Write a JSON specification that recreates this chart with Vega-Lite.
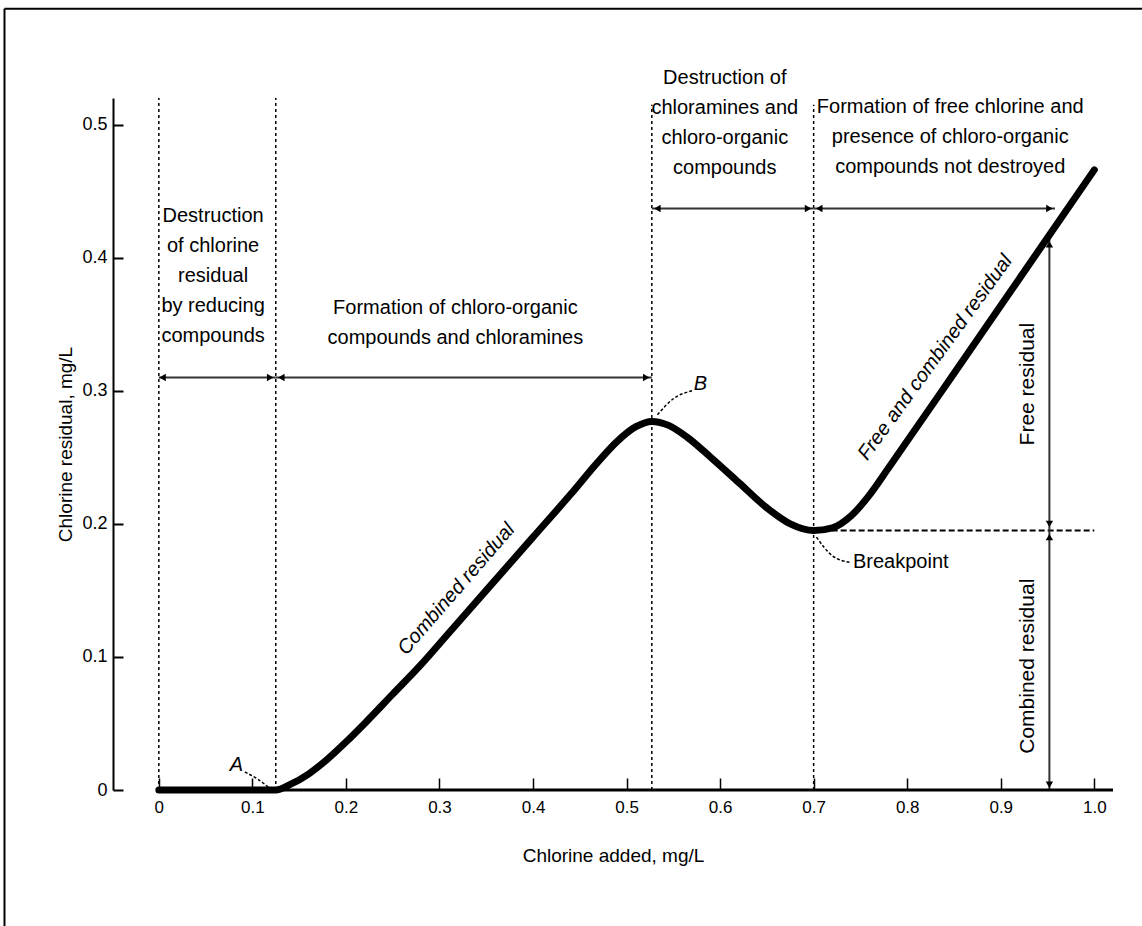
{
  "$schema": "https://vega.github.io/schema/vega-lite/v6.json",
  "width": 1000,
  "height": 692,
  "autosize": {"type": "none"},
  "padding": {"left": 113, "top": 98, "right": 29, "bottom": 136},
  "background": "white",
  "config": {
    "view": {"stroke": null},
    "font": "Liberation Sans",
    "axis": {"grid": false, "labelColor": "black", "titleColor": "black", "tickColor": "black", "domainColor": "black", "titleFontWeight": "normal"}
  },
  "datasets": {
    "curve": [
      {"x": 0, "y": 0}, {"x": 0.06, "y": 0}, {"x": 0.125, "y": 0}, {"x": 0.14, "y": 0.004},
      {"x": 0.16, "y": 0.012}, {"x": 0.18, "y": 0.023}, {"x": 0.2, "y": 0.036}, {"x": 0.22, "y": 0.05},
      {"x": 0.25, "y": 0.072}, {"x": 0.28, "y": 0.094}, {"x": 0.31, "y": 0.118}, {"x": 0.35, "y": 0.15},
      {"x": 0.4, "y": 0.19}, {"x": 0.44, "y": 0.222}, {"x": 0.47, "y": 0.247}, {"x": 0.49, "y": 0.262},
      {"x": 0.51, "y": 0.273}, {"x": 0.527, "y": 0.277}, {"x": 0.545, "y": 0.274}, {"x": 0.565, "y": 0.265},
      {"x": 0.59, "y": 0.25}, {"x": 0.62, "y": 0.231}, {"x": 0.65, "y": 0.212}, {"x": 0.675, "y": 0.2},
      {"x": 0.7, "y": 0.195}, {"x": 0.72, "y": 0.197}, {"x": 0.74, "y": 0.206}, {"x": 0.76, "y": 0.222},
      {"x": 0.78, "y": 0.242}, {"x": 0.85, "y": 0.313}, {"x": 0.95, "y": 0.415}, {"x": 1.0, "y": 0.466}
    ],
    "segments": [
      {"kind": "frame", "x": -0.165, "x2": 1.2, "y": 0.587, "y2": 0.587},
      {"kind": "frame", "x": -0.165, "x2": -0.165, "y": -0.3, "y2": 0.587},
      {"kind": "divider", "x": 0, "x2": 0, "y": 0, "y2": 0.52},
      {"kind": "divider", "x": 0.125, "x2": 0.125, "y": 0, "y2": 0.52},
      {"kind": "divider", "x": 0.527, "x2": 0.527, "y": 0, "y2": 0.515},
      {"kind": "divider", "x": 0.7, "x2": 0.7, "y": 0, "y2": 0.515},
      {"kind": "breakline", "x": 0.7, "x2": 1.0, "y": 0.195, "y2": 0.195},
      {"kind": "arrow", "x": 0, "x2": 0.125, "y": 0.31, "y2": 0.31},
      {"kind": "arrow", "x": 0.125, "x2": 0.527, "y": 0.31, "y2": 0.31},
      {"kind": "arrow", "x": 0.527, "x2": 0.7, "y": 0.437, "y2": 0.437},
      {"kind": "arrow", "x": 0.7, "x2": 0.958, "y": 0.437, "y2": 0.437},
      {"kind": "arrow", "x": 0.952, "x2": 0.952, "y": 0, "y2": 0.195},
      {"kind": "arrow", "x": 0.952, "x2": 0.952, "y": 0.195, "y2": 0.416},
      {"kind": "baseline", "x": 0, "x2": 1.02, "y": 0, "y2": 0}
    ],
    "heads": [
      {"x": 0.004, "y": 0.31, "dir": "left"}, {"x": 0.119, "y": 0.31, "dir": "right"},
      {"x": 0.131, "y": 0.31, "dir": "left"}, {"x": 0.521, "y": 0.31, "dir": "right"},
      {"x": 0.533, "y": 0.437, "dir": "left"}, {"x": 0.694, "y": 0.437, "dir": "right"},
      {"x": 0.706, "y": 0.437, "dir": "left"}, {"x": 0.952, "y": 0.437, "dir": "right"},
      {"x": 0.952, "y": 0.004, "dir": "down"}, {"x": 0.952, "y": 0.19, "dir": "up"},
      {"x": 0.952, "y": 0.2, "dir": "down"}, {"x": 0.952, "y": 0.41, "dir": "up"}
    ],
    "blocks": [
      {"x": 0.058, "y": 0.431, "text": "Destruction\nof chlorine\nresidual\nby reducing\ncompounds"},
      {"x": 0.317, "y": 0.362, "text": "Formation of chloro-organic\ncompounds and chloramines"},
      {"x": 0.605, "y": 0.535, "text": "Destruction of\nchloramines and\nchloro-organic\ncompounds"},
      {"x": 0.846, "y": 0.513, "text": "Formation of free chlorine and\npresence of chloro-organic\ncompounds not destroyed"}
    ],
    "vertLabels": [
      {"x": 0.929, "y": 0.305, "text": "Free residual"},
      {"x": 0.929, "y": 0.093, "text": "Combined residual"}
    ],
    "points": [
      {"x": 0.083, "y": 0.019, "text": "A"},
      {"x": 0.579, "y": 0.305, "text": "B"}
    ],
    "leaders": [
      {"id": "A", "x": 0.092, "y": 0.0135}, {"id": "A", "x": 0.106, "y": 0.008}, {"id": "A", "x": 0.119, "y": 0.001},
      {"id": "B", "x": 0.533, "y": 0.282}, {"id": "B", "x": 0.55, "y": 0.294}, {"id": "B", "x": 0.57, "y": 0.3},
      {"id": "P", "x": 0.703, "y": 0.19}, {"id": "P", "x": 0.72, "y": 0.176}, {"id": "P", "x": 0.739, "y": 0.171}
    ]
  },
  "encoding": {
    "x": {"field": "x", "type": "quantitative", "scale": {"domain": [-0.049, 1.02], "nice": false, "zero": false},
      "axis": {"values": [0, 0.1, 0.2, 0.3, 0.4, 0.5, 0.6, 0.7, 0.8, 0.9, 1.0], "labelExpr": "datum.value == 0 ? '0' : format(datum.value, '.1f')",
        "domain": false, "tickSize": -12, "tickWidth": 1.5, "labelFontSize": 17, "labelPadding": 21, "title": "Chlorine added, mg/L", "titleFontSize": 19, "titlePadding": 31}},
    "y": {"field": "y", "type": "quantitative", "scale": {"domain": [0, 0.52], "nice": false, "zero": false},
      "axis": {"values": [0, 0.1, 0.2, 0.3, 0.4, 0.5], "labelExpr": "datum.value == 0 ? '0' : format(datum.value, '.1f')",
        "domain": true, "domainWidth": 2, "tickSize": -10, "tickWidth": 2, "labelFontSize": 18, "labelPadding": 16, "title": "Chlorine residual, mg/L", "titleFontSize": 19, "titlePadding": 6}}
  },
  "layer": [
    {
      "data": {"name": "segments"},
      "transform": [{"filter": "datum.kind == 'frame'"}],
      "mark": {"type": "rule", "color": "black", "strokeWidth": 2},
      "encoding": {"x2": {"field": "x2"}, "y2": {"field": "y2"}}
    },
    {
      "data": {"name": "segments"},
      "transform": [{"filter": "datum.kind == 'divider'"}],
      "mark": {"type": "rule", "color": "black", "strokeWidth": 1.5, "strokeDash": [3, 3]},
      "encoding": {"x2": {"field": "x2"}, "y2": {"field": "y2"}}
    },
    {
      "data": {"name": "segments"},
      "transform": [{"filter": "datum.kind == 'breakline'"}],
      "mark": {"type": "rule", "color": "black", "strokeWidth": 2, "strokeDash": [6, 3]},
      "encoding": {"x2": {"field": "x2"}, "y2": {"field": "y2"}}
    },
    {
      "data": {"name": "segments"},
      "transform": [{"filter": "datum.kind == 'arrow'"}],
      "mark": {"type": "rule", "color": "#333333", "strokeWidth": 2},
      "encoding": {"x2": {"field": "x2"}, "y2": {"field": "y2"}}
    },
    {
      "data": {"name": "segments"},
      "transform": [{"filter": "datum.kind == 'baseline'"}],
      "mark": {"type": "rule", "color": "black", "strokeWidth": 3},
      "encoding": {"x2": {"field": "x2"}, "y2": {"field": "y2"}}
    },
    {
      "data": {"name": "heads"},
      "mark": {"type": "point", "filled": true, "color": "black", "size": 55, "opacity": 1},
      "encoding": {
        "shape": {"field": "dir", "type": "nominal", "legend": null,
          "scale": {"domain": ["left", "right", "up", "down"], "range": ["triangle-left", "triangle-right", "triangle-up", "triangle-down"]}}
      }
    },
    {
      "data": {"name": "curve"},
      "mark": {"type": "line", "color": "black", "strokeWidth": 7, "interpolate": "monotone", "strokeCap": "round"},
      "encoding": {}
    },
    {
      "data": {"name": "leaders"},
      "mark": {"type": "line", "color": "black", "strokeWidth": 1.5, "strokeDash": [3, 2], "interpolate": "monotone"},
      "encoding": {"detail": {"field": "id", "type": "nominal"}}
    },
    {
      "data": {"name": "blocks"},
      "mark": {"type": "text", "fontSize": 20, "lineBreak": "\n", "lineHeight": 30, "align": "center", "baseline": "middle", "color": "black"},
      "encoding": {"text": {"field": "text", "type": "nominal"}}
    },
    {
      "data": {"name": "vertLabels"},
      "mark": {"type": "text", "fontSize": 21, "angle": 270, "align": "center", "baseline": "middle", "color": "black"},
      "encoding": {"text": {"field": "text", "type": "nominal"}}
    },
    {
      "data": {"name": "points"},
      "mark": {"type": "text", "fontSize": 20, "fontStyle": "italic", "align": "center", "baseline": "middle", "color": "black"},
      "encoding": {"text": {"field": "text", "type": "nominal"}}
    },
    {
      "data": {"values": [{"x": 0.742, "y": 0.171, "text": "Breakpoint"}]},
      "mark": {"type": "text", "fontSize": 20, "align": "left", "baseline": "middle", "color": "black"},
      "encoding": {"text": {"field": "text", "type": "nominal"}}
    },
    {
      "data": {"values": [{"x": 0.318, "y": 0.151, "text": "Combined residual"}]},
      "mark": {"type": "text", "fontSize": 20, "fontStyle": "italic", "angle": -49, "align": "center", "baseline": "middle", "color": "black"},
      "encoding": {"text": {"field": "text", "type": "nominal"}}
    },
    {
      "data": {"values": [{"x": 0.83, "y": 0.325, "text": "Free and combined residual"}]},
      "mark": {"type": "text", "fontSize": 20, "fontStyle": "italic", "angle": -54, "align": "center", "baseline": "middle", "color": "black"},
      "encoding": {"text": {"field": "text", "type": "nominal"}}
    }
  ]
}
